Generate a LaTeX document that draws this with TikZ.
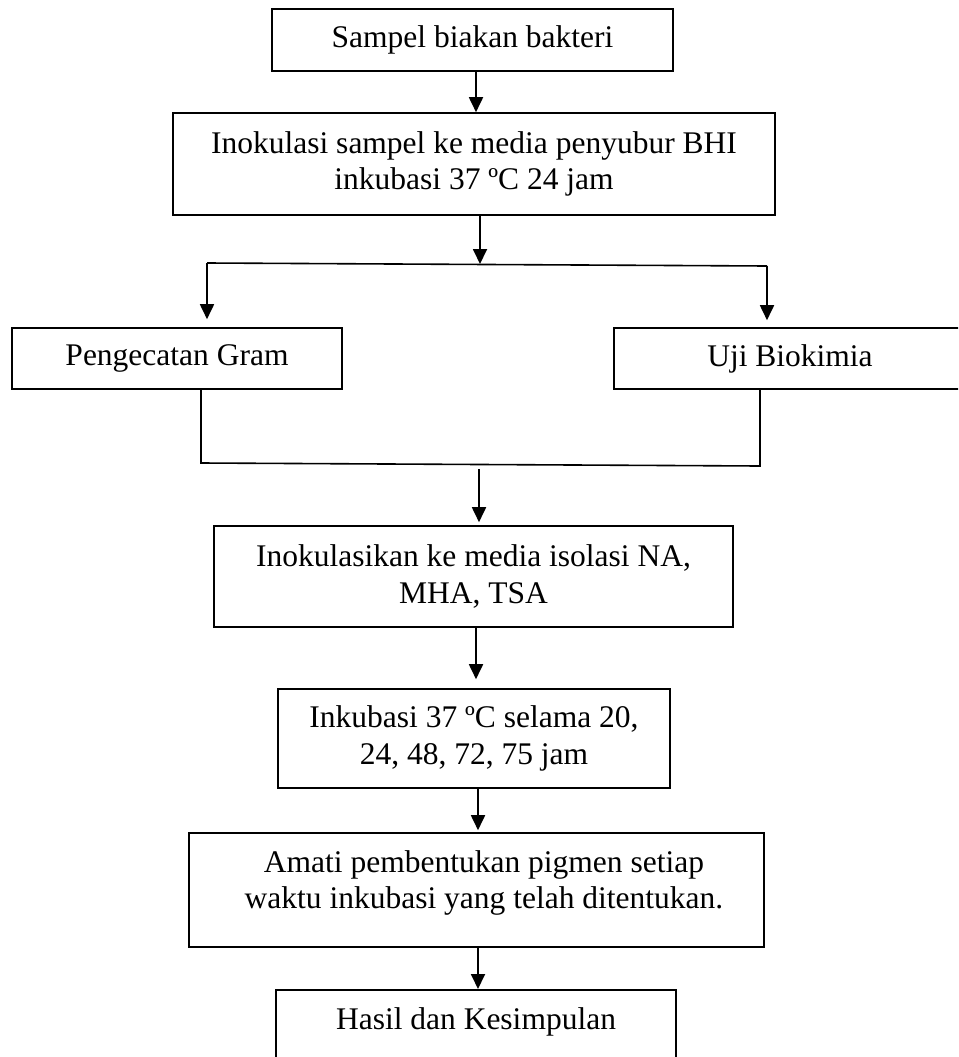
\documentclass[tikz,border=0pt]{standalone}
\usepackage{fontspec}
\setmainfont{Liberation Serif}
\usetikzlibrary{arrows.meta}
\begin{document}
\begin{tikzpicture}[x=1pt,y=-1pt,
  txt/.style={inner sep=0pt,align=center,font=\fontsize{31.5}{36.5}\selectfont},
  box/.style={txt,draw=black,line width=1.6pt},
  arr/.style={line width=1.8pt,-{Triangle[length=15pt,width=14pt]}},
  conn/.style={line width=1.6pt}]
\useasboundingbox (0,0) rectangle (958,1057);
\clip (0,0) rectangle (958,1057);
\fill[white] (0,0) rectangle (958,1057);
% boxes
\node[box,minimum width=401pt,minimum height=62pt] (b1) at (472.5,40) {Sampel biakan bakteri};
\node[box,minimum width=602pt,minimum height=102pt] (b2) at (474,164) {Inokulasi sampel ke media penyubur BHI\\inkubasi 37 ºC 24 jam};
\node[box,minimum width=330pt,minimum height=61pt] (b3) at (177,358.5) {Pengecatan Gram};
\node[box,minimum width=352pt,minimum height=61pt] (b4) at (790,358.5) {Uji Biokimia};
\node[box,minimum width=519pt,minimum height=101pt] (b5) at (473.5,576.5) {Inokulasikan ke media isolasi NA,\\MHA, TSA};
\node[box,minimum width=392pt,minimum height=99pt] (b6) at (474,738.5) {Inkubasi 37 ºC selama 20,\\24, 48, 72, 75 jam};
\node[box,minimum width=575pt,minimum height=114pt] (b7) at (476.5,890) {};
\node[txt] (t7) at (484,883) {Amati pembentukan pigmen setiap\\waktu inkubasi yang telah ditentukan.};
% last box runs past the page bottom
\coordinate (b8nw) at (276,990);
\coordinate (b8ne) at (676,990);
\node[txt] (b8) at (476,1022) {Hasil dan Kesimpulan};
\draw[line width=1.6pt] ([yshift=-80pt]b8nw) -- (b8nw) -- (b8ne) -- ([yshift=-80pt]b8ne);
% coordinates
\coordinate (tc) at (480,264);
\coordinate (tl) at (207,263);
\coordinate (tr) at (767,266);
\coordinate (bl) at (201,463);
\coordinate (br) at (760,466);
\coordinate (bc) at (479,469);
% connectors
\draw[arr] (b1.south -| 476,0) -- (b2.north -| 476,0);
\draw[arr] (b2.south -| tc) -- (tc);
\draw[conn] (tl) -- (tr);
\draw[arr] (tl) -- ([yshift=8pt]b3.north -| tl);
\draw[arr] (tr) -- ([yshift=7pt]b4.north -| tr);
\draw[conn] (b3.south -| bl) -- (bl) -- (br) -- (b4.south -| br);
\draw[arr] (bc) -- ([yshift=3pt]b5.north -| bc);
\draw[arr] (b5.south -| 476,0) -- ([yshift=9pt]b6.north -| 476,0);
\draw[arr] (b6.south -| 478,0) -- ([yshift=2pt]b7.north -| 478,0);
\draw[arr] (b7.south -| 478,0) -- ([yshift=1pt]b8ne -| 478,0);
\end{tikzpicture}
\end{document}
